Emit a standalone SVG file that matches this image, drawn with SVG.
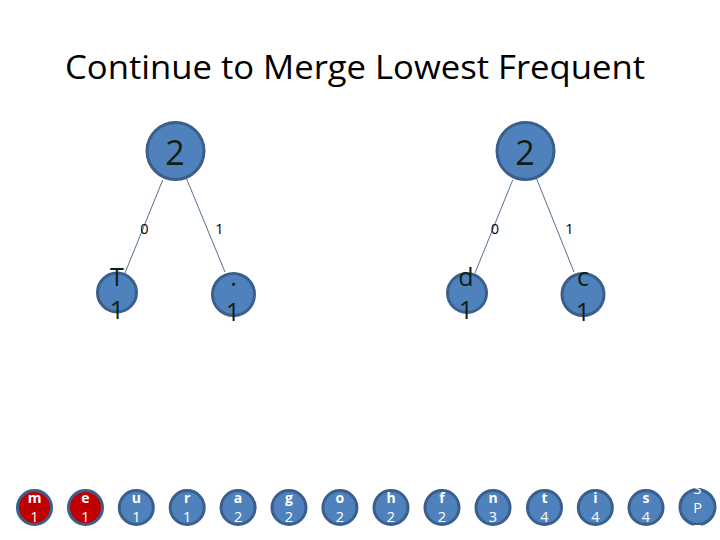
<svg xmlns="http://www.w3.org/2000/svg" width="720" height="540" viewBox="0 0 720 540">
<style>
.bg{fill:#ffffff}
.title{font-family:"Open Sans","Liberation Sans",sans-serif;font-size:33px;fill:#000000}
.node{fill:#4f81bd;stroke:#3b5f8c;stroke-width:3}
.red{fill:#c00000;stroke:#3b5f8c;stroke-width:3}
.big{font-family:"Open Sans","Liberation Sans",sans-serif;font-size:34px;fill:#0f1f12;text-anchor:middle}
.mid{font-family:"Open Sans","Liberation Sans",sans-serif;font-size:25px;fill:#0f1f12;text-anchor:middle}
.let{font-family:"Open Sans","Liberation Sans",sans-serif;font-size:14px;font-weight:bold;fill:#ffffff;text-anchor:middle}
.num{font-family:"Open Sans","Liberation Sans",sans-serif;font-size:14.5px;fill:#ffffff;text-anchor:middle}
.edge{stroke:#56708f;stroke-width:1;fill:none}
.elab{font-family:"Open Sans","Liberation Sans",sans-serif;font-size:14.5px;fill:#000000;text-anchor:middle}
</style>
<rect class="bg" x="0" y="0" width="720" height="540"/>
<text class="title" x="65" y="79" textLength="580" lengthAdjust="spacingAndGlyphs">Continue to Merge Lowest Frequent</text>

<g id="connectors">
  <line class="edge" x1="162.7" y1="180" x2="125" y2="273"/>
  <line class="edge" x1="186.7" y1="179" x2="225" y2="272"/>
  <line class="edge" x1="512.7" y1="180" x2="475" y2="273"/>
  <line class="edge" x1="536.7" y1="179" x2="574" y2="272"/>
  <text class="elab" x="144.5" y="234">0</text>
  <text class="elab" x="219.5" y="234">1</text>
  <text class="elab" x="495" y="234">0</text>
  <text class="elab" x="569.5" y="234">1</text>
</g>

<g id="n2left">
  <circle class="node" cx="175.5" cy="151" r="28.5"/>
  <text class="big" x="175" y="165">2</text>
</g>
<g id="n2right">
  <circle class="node" cx="525.5" cy="151" r="28.5"/>
  <text class="big" x="525" y="165">2</text>
</g>
<g id="nT">
  <circle class="node" cx="117" cy="292.5" r="19.5"/>
  <text class="mid" x="117" y="285.5">T</text>
  <text class="mid" x="117" y="318.5">1</text>
</g>
<g id="ndot">
  <circle class="node" cx="233.5" cy="294.5" r="21"/>
  <text class="mid" x="233.5" y="285.5">.</text>
  <text class="mid" x="233" y="320.5">1</text>
</g>
<g id="nd">
  <circle class="node" cx="467" cy="293" r="19.5"/>
  <text class="mid" x="466" y="285.5">d</text>
  <text class="mid" x="466" y="318.5">1</text>
</g>
<g id="nc">
  <circle class="node" cx="583" cy="294.5" r="21"/>
  <text class="mid" x="583" y="286">c</text>
  <text class="mid" x="583" y="320.5">1</text>
</g>

<g id="nm"><circle class="red" cx="34.5" cy="507.5" r="17"/><text class="let" x="34.5" y="503">m</text><text class="num" x="34.5" y="521.5">1</text></g>
<g id="ne"><circle class="red" cx="85.5" cy="507.5" r="17"/><text class="let" x="85.5" y="503">e</text><text class="num" x="85.5" y="521.5">1</text></g>
<g id="nu"><circle class="node" cx="136.3" cy="507.5" r="17"/><text class="let" x="136.3" y="503">u</text><text class="num" x="136.3" y="521.5">1</text></g>
<g id="nr"><circle class="node" cx="187.2" cy="507.5" r="17"/><text class="let" x="187.2" y="503">r</text><text class="num" x="187.2" y="521.5">1</text></g>
<g id="na"><circle class="node" cx="238.1" cy="507.5" r="17"/><text class="let" x="238.1" y="503">a</text><text class="num" x="238.1" y="521.5">2</text></g>
<g id="ng"><circle class="node" cx="289" cy="507.5" r="17"/><text class="let" x="289" y="503">g</text><text class="num" x="289" y="521.5">2</text></g>
<g id="no"><circle class="node" cx="339.9" cy="507.5" r="17"/><text class="let" x="339.9" y="503">o</text><text class="num" x="339.9" y="521.5">2</text></g>
<g id="nh"><circle class="node" cx="391" cy="507.5" r="17"/><text class="let" x="391" y="503">h</text><text class="num" x="391" y="521.5">2</text></g>
<g id="nf"><circle class="node" cx="442" cy="507.5" r="17"/><text class="let" x="442" y="503">f</text><text class="num" x="442" y="521.5">2</text></g>
<g id="nn"><circle class="node" cx="493" cy="507.5" r="17"/><text class="let" x="493" y="503">n</text><text class="num" x="493" y="521.5">3</text></g>
<g id="nt"><circle class="node" cx="544.5" cy="507.5" r="17"/><text class="let" x="544.5" y="503">t</text><text class="num" x="544.5" y="521.5">4</text></g>
<g id="ni"><circle class="node" cx="595.3" cy="507.5" r="17"/><text class="let" x="595.3" y="503">i</text><text class="num" x="595.3" y="521.5">4</text></g>
<g id="ns"><circle class="node" cx="646" cy="507.5" r="17"/><text class="let" x="646" y="503">s</text><text class="num" x="646" y="521.5">4</text></g>
<g id="nsp">
  <circle class="node" cx="697.5" cy="507" r="17.5"/>
  <text class="num" x="697.5" y="493.5">S</text>
  <text class="num" x="697.5" y="513">P</text>
  <text class="num" x="697.5" y="535">7</text>
</g>
</svg>
